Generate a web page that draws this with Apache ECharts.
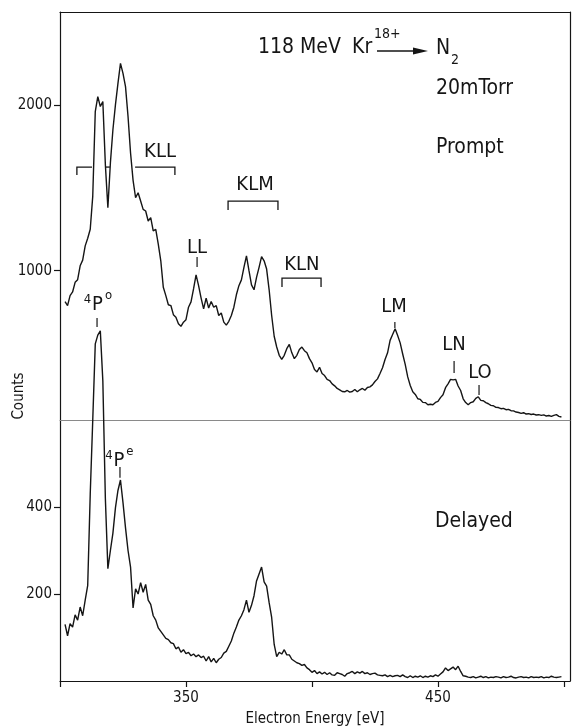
<!DOCTYPE html>
<html>
<head>
<meta charset="utf-8">
<script src="https://cdn.jsdelivr.net/npm/echarts@6.0.0/dist/echarts.min.js"></script>
<style>
  html, body { margin: 0; padding: 0; background: #fff; }
  #chart { width: 573px; height: 728px; }
</style>
</head>
<body>
<div id="chart"></div>
<script>
// electron energy of each channel [eV]
const energy = [
  302, 303, 304, 305, 306, 307, 308, 309, 310, 311,
  312, 313, 314, 315, 316, 317, 318, 319, 320, 321,
  322, 323, 324, 325, 326, 327, 328, 329, 330, 331,
  332, 333, 334, 335, 336, 337, 338, 339, 340, 341,
  342, 343, 344, 345, 346, 347, 348, 349, 350, 351,
  352, 353, 354, 355, 356, 357, 358, 359, 360, 361,
  362, 363, 364, 365, 366, 367, 368, 369, 370, 371,
  372, 373, 374, 375, 376, 377, 378, 379, 380, 381,
  382, 383, 384, 385, 386, 387, 388, 389, 390, 391,
  392, 393, 394, 395, 396, 397, 398, 399, 400, 401,
  402, 403, 404, 405, 406, 407, 408, 409, 410, 411,
  412, 413, 414, 415, 416, 417, 418, 419, 420, 421,
  422, 423, 424, 425, 426, 427, 428, 429, 430, 431,
  432, 433, 434, 435, 436, 437, 438, 439, 440, 441,
  442, 443, 444, 445, 446, 447, 448, 449, 450, 451,
  452, 453, 454, 455, 456, 457, 458, 459, 460, 461,
  462, 463, 464, 465, 466, 467, 468, 469, 470, 471,
  472, 473, 474, 475, 476, 477, 478, 479, 480, 481,
  482, 483, 484, 485, 486, 487, 488, 489, 490, 491,
  492, 493, 494, 495, 496, 497, 498, 499
]

// counts, prompt spectrum
const promptCounts = [
  814, 790, 850, 872, 930, 946, 1030, 1064, 1150, 1196,
  1250, 1450, 1960, 2050, 1990, 2020, 1640, 1380, 1650, 1850,
  2000, 2130, 2250, 2190, 2110, 1930, 1710, 1545, 1440, 1470,
  1420, 1370, 1360, 1300, 1320, 1240, 1250, 1160, 1060, 900,
  850, 795, 790, 735, 720, 680, 665, 690, 705, 780,
  812, 890, 975, 910, 835, 770, 835, 775, 815, 780,
  790, 730, 745, 690, 672, 695, 730, 780, 855, 910,
  945, 1020, 1090, 1000, 915, 885, 960, 1020, 1085, 1060,
  1010, 885, 730, 605, 540, 490, 465, 490, 530, 556,
  505, 470, 490, 525, 540, 518, 505, 470, 445, 405,
  390, 418, 380, 368, 345, 338, 318, 306, 290, 282,
  272, 270, 278, 268, 272, 284, 270, 282, 290, 280,
  296, 300, 312, 332, 348, 380, 415, 465, 505, 580,
  615, 650, 610, 565, 498, 435, 360, 308, 270, 254,
  228, 224, 206, 205, 192, 195, 192, 206, 212, 235,
  252, 295, 318, 345, 342, 345, 305, 278, 228, 205,
  192, 205, 210, 230, 240, 218, 216, 205, 198, 188,
  186, 176, 175, 168, 170, 162, 164, 156, 155, 148,
  145, 140, 144, 136, 138, 133, 136, 130, 132, 128,
  131, 124, 127, 122, 128, 132, 122, 118
]

// counts, delayed spectrum
const delayedCounts = [
  130, 104, 132, 124, 152, 140, 170, 150, 186, 220,
  430, 600, 775, 795, 805, 690, 420, 258, 300, 340,
  398, 438, 462, 410, 352, 300, 262, 168, 212, 200,
  226, 204, 222, 186, 176, 150, 140, 122, 114, 106,
  98, 95, 88, 86, 74, 78, 66, 72, 63, 66,
  58, 62, 56, 60, 54, 57, 46, 56, 44, 52,
  42, 50, 54, 64, 68, 80, 92, 110, 124, 140,
  150, 164, 186, 158, 174, 196, 230, 246, 262, 228,
  218, 180, 146, 84, 56, 66, 62, 72, 60, 60,
  50, 46, 42, 40, 36, 38, 30, 26, 20, 24,
  17, 21, 16, 20, 15, 19, 14, 13, 19, 17,
  15, 11, 17, 19, 22, 17, 21, 18, 22, 17,
  19, 15, 17, 18, 14, 13, 12, 14, 10, 13,
  10, 12, 13, 10, 14, 10, 8, 12, 8, 11,
  9, 12, 8, 11, 9, 12, 10, 14, 11, 16,
  21, 30, 24, 28, 32, 26, 34, 22, 12, 11,
  9, 8, 10, 7, 9, 11, 8, 10, 7, 9,
  8, 10, 9, 7, 10, 8, 9, 11, 8, 7,
  9, 10, 8, 9, 7, 10, 8, 9, 8, 10,
  7, 9, 8, 11, 9, 8, 9, 10
]

// tick values
const xTicks = [300, 350, 400, 450, 500]
const xLabels = [350, 450]
const promptTicks = [1000, 2000]
const delayedTicks = [200, 400]

// line names in the prompt panel: text, [eV, counts] of the text centre
const lineNames = ['KLL', 'KLM', 'LL', 'KLN', 'LM', 'LN', 'LO']
const lineNameAt = [[339.7, 1716], [377.4, 1517], [354.4, 1137], [396.0, 1035],
  [432.6, 781], [456.4, 552], [466.7, 383]]
// short marker strokes under the names: [eV, counts from, counts to]
const lineMarks = [[354.4, 1022, 1083], [432.9, 655, 691], [456.4, 383, 456], [466.3, 251, 311]]
// group brackets in the prompt panel, as [eV, counts] polylines
const brackets = [
  [[306.7, 1577], [306.7, 1625], [312.7, 1625]],
  [[317.9, 1625], [319.8, 1625]],
  [[329.8, 1625], [345.6, 1625], [345.6, 1577]],
  [[366.7, 1366], [366.7, 1420], [386.5, 1420], [386.5, 1366]],
  [[388.1, 902], [388.1, 956], [403.6, 956], [403.6, 902]]
]
// 4P states of the delayed spectrum
const stateNames = [['4', 'P', 'o'], ['4', 'P', 'e']]
const stateAt = [[314.9, 793, 0], [323.4, 507, 1]]          // [eV, counts, panel]
const stateMarks = [[314.7, 661, 715, 0], [323.8, 467, 492, 1]]

const FONT = '"DejaVu Sans Condensed", "Liberation Sans Narrow", "DejaVu Sans", sans-serif'
const INK = '#151515'

const chart = echarts.init(document.getElementById('chart'))

function pairs(ys) {
  return energy.map((e, i) => [e, ys[i]])
}

const plainAxis = {
  axisLine: {lineStyle: {color: INK, width: 1.2}},
  axisTick: {show: false},
  axisLabel: {show: false},
  splitLine: {show: false}
}

function tickLabel(size) {
  return {margin: 8, color: INK, fontSize: size, fontFamily: FONT, formatter: v => String(v)}
}

const option = {
  animation: false,
  backgroundColor: '#fff',
  grid: [
    {left: 60, top: 12, width: 510, height: 408},
    {left: 60, top: 420, width: 510, height: 266}
  ],
  xAxis: [
    Object.assign({}, plainAxis, {type: 'value', gridIndex: 0, min: 300, max: 502.4, position: 'bottom',
      axisLine: {lineStyle: {color: '#8a8a8a', width: 1}}}),
    Object.assign({}, plainAxis, {type: 'value', gridIndex: 0, min: 300, max: 502.4, position: 'top'}),
    {
      type: 'value', gridIndex: 1, min: 300, max: 502.4, position: 'bottom',
      axisLine: {lineStyle: {color: INK, width: 1.2}},
      axisTick: {inside: false, length: 6, customValues: xTicks, lineStyle: {color: INK, width: 1.2}},
      axisLabel: Object.assign(tickLabel(15), {customValues: xLabels, margin: 10}),
      splitLine: {show: false},
      name: 'Electron Energy [eV]',
      nameLocation: 'middle',
      nameGap: 31,
      nameTextStyle: {color: INK, fontSize: 15, fontFamily: FONT}
    }
  ],
  yAxis: [
    {
      type: 'value', gridIndex: 0, min: 100, max: 2560,
      axisLine: {lineStyle: {color: INK, width: 1.2}},
      axisTick: {inside: false, length: 6, customValues: promptTicks, lineStyle: {color: INK, width: 1.2}},
      axisLabel: Object.assign(tickLabel(15), {customValues: promptTicks}),
      splitLine: {show: false}
    },
    Object.assign({}, plainAxis, {type: 'value', gridIndex: 0, min: 0, max: 1, position: 'right'}),
    {
      type: 'value', gridIndex: 1, min: 0, max: 600,
      axisLine: {lineStyle: {color: INK, width: 1.2}},
      axisTick: {inside: false, length: 6, customValues: delayedTicks, lineStyle: {color: INK, width: 1.2}},
      axisLabel: Object.assign(tickLabel(15), {customValues: delayedTicks}),
      splitLine: {show: false}
    },
    Object.assign({}, plainAxis, {type: 'value', gridIndex: 1, min: 0, max: 1, position: 'right'})
  ],
  series: [
    {
      name: 'Prompt', type: 'line', xAxisIndex: 0, yAxisIndex: 0,
      data: pairs(promptCounts), showSymbol: false, symbol: 'none',
      lineStyle: {color: INK, width: 1.4}
    },
    {
      name: 'Delayed', type: 'line', xAxisIndex: 2, yAxisIndex: 2,
      data: pairs(delayedCounts), showSymbol: false, symbol: 'none', clip: false,
      lineStyle: {color: INK, width: 1.4}
    }
  ]
}

chart.setOption(option)

function txt(t, x, y, size, align, extra) {
  return Object.assign({
    type: 'text', x: x, y: y, z: 20,
    style: {
      text: t, font: size + 'px ' + FONT, fill: INK,
      textAlign: align || 'center', textVerticalAlign: 'middle',
      align: align || 'center', verticalAlign: 'middle'
    }
  }, extra || {})
}

function stroke(points, width) {
  return {type: 'polyline', z: 20, shape: {points: points}, style: {stroke: INK, lineWidth: width || 1.3, fill: 'none'}}
}

function buildGraphic() {
  const toPx = (p, panel) => chart.convertToPixel({seriesIndex: panel}, p)
  const els = []

  // header
  els.push(txt('118 MeV', 258, 48, 21, 'left'))
  els.push(txt('Kr', 352, 48, 21, 'left'))
  els.push(txt('18+', 374, 34, 14, 'left'))
  els.push(stroke([[377, 51], [416, 51]], 1.4))
  els.push({type: 'polygon', z: 20, shape: {points: [[413, 47.5], [428, 51], [413, 54.5]]}, style: {fill: INK}})
  els.push(txt('N', 436, 49, 21, 'left'))
  els.push(txt('2', 451, 60, 14, 'left'))
  els.push(txt('20mTorr', 436, 89, 21, 'left'))
  els.push(txt('Prompt', 436, 148, 21, 'left'))
  els.push(txt('Delayed', 435, 522, 21, 'left'))

  // y axis name
  els.push(txt('Counts', 19, 396, 15, 'center', {rotation: Math.PI / 2}))

  // line names, markers and brackets
  lineNames.forEach((name, i) => {
    const p = toPx(lineNameAt[i], 0)
    els.push(txt(name, p[0], p[1], 20))
  })
  lineMarks.forEach(m => {
    els.push(stroke([toPx([m[0], m[1]], 0), toPx([m[0], m[2]], 0)], 1.2))
  })
  brackets.forEach(b => {
    els.push(stroke(b.map(p => toPx(p, 0)), 1.3))
  })

  // 4P states
  stateNames.forEach((parts, i) => {
    const s = stateAt[i]
    const p = toPx([s[0], s[1]], s[2])
    els.push(txt(parts[0], p[0] - 10, p[1] - 5, 13))
    els.push(txt(parts[1], p[0], p[1], 20))
    els.push(txt(parts[2], p[0] + 11, p[1] - 9, 13))
  })
  stateMarks.forEach(m => {
    els.push(stroke([toPx([m[0], m[1]], m[3]), toPx([m[0], m[2]], m[3])], 1.2))
  })
  return els
}

chart.setOption({graphic: buildGraphic()})
</script>
</body>
</html>
